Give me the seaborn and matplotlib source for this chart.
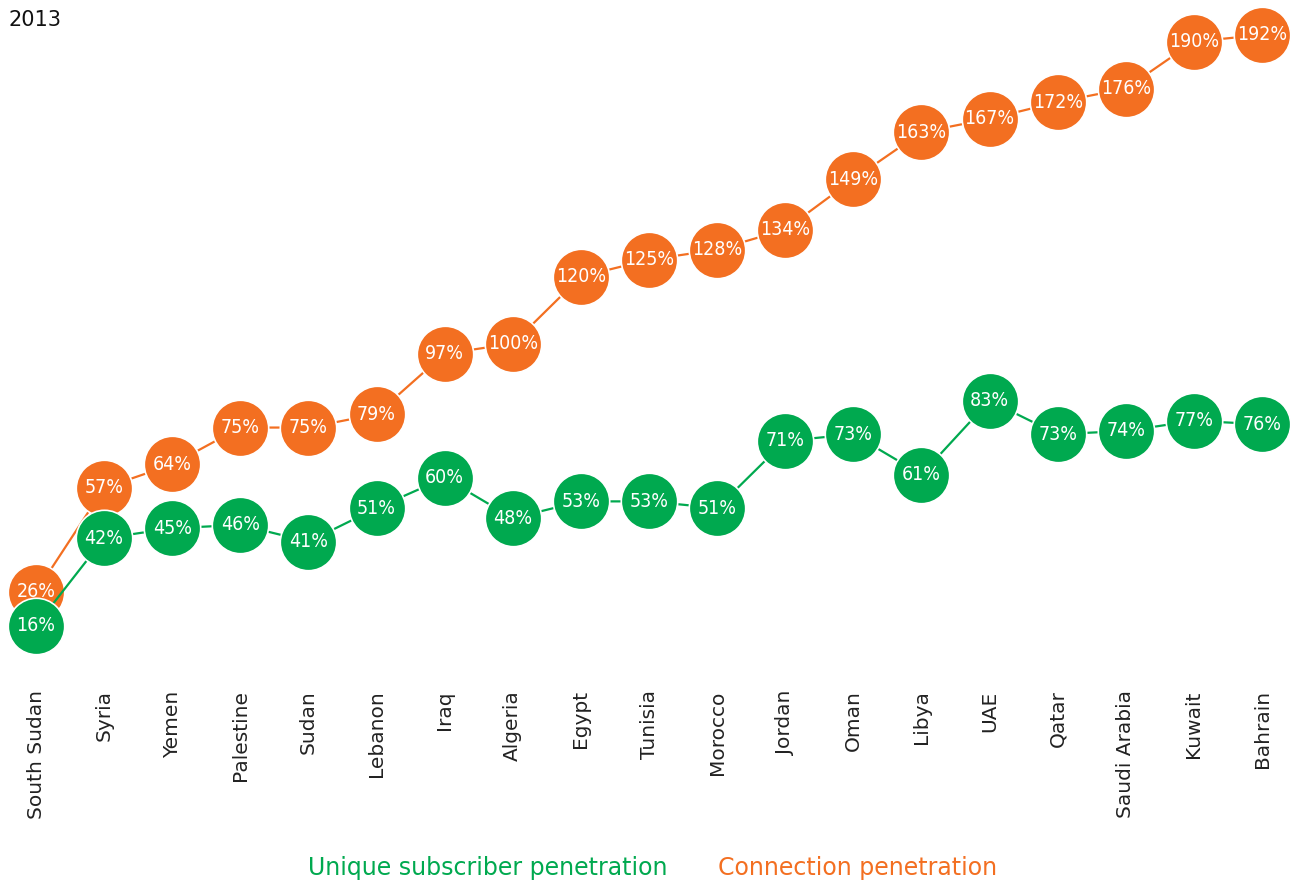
import pandas as pd
import matplotlib.pyplot as plt
import seaborn as sns

countries = ["South Sudan", "Syria", "Yemen", "Palestine", "Sudan", "Lebanon", "Iraq",
             "Algeria", "Egypt", "Tunisia", "Morocco", "Jordan", "Oman", "Libya", "UAE",
             "Qatar", "Saudi Arabia", "Kuwait", "Bahrain"]
unique_subs = [16, 42, 45, 46, 41, 51, 60, 48, 53, 53, 51, 71, 73, 61, 83, 73, 74, 77, 76]
connections = [26, 57, 64, 75, 75, 79, 97, 100, 120, 125, 128, 134, 149, 163, 167, 172, 176, 190, 192]

green = "#00A94F"
orange = "#F36F21"

df = pd.DataFrame({"idx": range(len(countries)), "country": countries,
                   "unique": unique_subs, "conn": connections})

sns.set_style("white")
plt.rcParams["font.family"] = ["DejaVu Sans"]

fig = plt.figure(figsize=(12.92, 8.81), dpi=100)
ax = fig.add_axes([0, 0.229, 1, 0.771])

# orange series first, green drawn over it
sns.lineplot(data=df, x="idx", y="conn", color=orange, linewidth=1.6, ax=ax, zorder=1)
sns.scatterplot(data=df, x="idx", y="conn", color=orange, s=1650, edgecolor="white",
                linewidth=1.2, ax=ax, zorder=2)
sns.lineplot(data=df, x="idx", y="unique", color=green, linewidth=1.6, ax=ax, zorder=3)
sns.scatterplot(data=df, x="idx", y="unique", color=green, s=1650, edgecolor="white",
                linewidth=1.2, ax=ax, zorder=4)

for i, row in df.iterrows():
    ax.text(row["idx"], row["conn"], f"{row['conn']}%", color="white", ha="center",
            va="center", fontsize=14, fontstretch="condensed", zorder=5)
    ax.text(row["idx"], row["unique"], f"{row['unique']}%", color="white", ha="center",
            va="center", fontsize=14, fontstretch="condensed", zorder=6)

ax.set_xlim(-0.5286, 18.44)
ax.set_ylim(0, 202.4)
ax.set_xticks(df["idx"])
ax.set_xticklabels(countries, rotation=90, fontsize=14.5, color="#222222")
ax.tick_params(axis="x", length=0, pad=8)
ax.set_yticks([])
ax.set_xlabel("")
ax.set_ylabel("")
sns.despine(ax=ax, left=True, bottom=True)

fig.text(8 / 1292, 1 - 20 / 881, "2013", fontsize=15, color="#111111", va="center", ha="left")
fig.text(488 / 1292, 1 - 868 / 881, "Unique subscriber penetration", fontsize=17,
         color=green, va="center", ha="center")
fig.text(858 / 1292, 1 - 868 / 881, "Connection penetration", fontsize=17,
         color=orange, va="center", ha="center")

fig.savefig("out.png", dpi=100)
